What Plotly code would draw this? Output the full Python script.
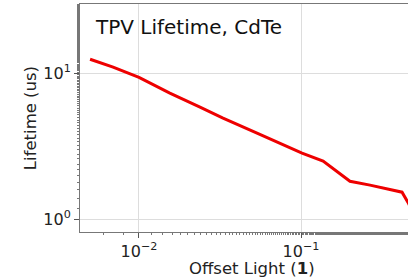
import plotly.graph_objects as go

offset_light = [0.00499, 0.00692, 0.0100, 0.0155, 0.0238, 0.0330, 0.0535, 0.0855,
                0.1014, 0.1368, 0.2004, 0.2665, 0.420, 0.457, 0.50]
lifetime_us = [12.5, 11.05, 9.39, 7.33, 5.88, 4.94, 3.90, 3.08,
               2.85, 2.51, 1.83, 1.72, 1.54, 1.31, 1.07]

x_tickvals = [0.01, 0.1]
x_ticktext = ["10<sup>−2</sup>", "10<sup>−1</sup>"]
y_tickvals = [1, 10]
y_ticktext = ["10<sup>0</sup>", "10<sup>1</sup>"]

font = "DejaVu Sans"
fig = go.Figure()
fig.add_trace(go.Scatter(x=offset_light, y=lifetime_us, mode="lines",
                         line=dict(color="#ee0000", width=3), showlegend=False))

fig.update_layout(
    width=408, height=280,
    margin=dict(l=80, r=0, t=4, b=48, autoexpand=False),
    plot_bgcolor="white", paper_bgcolor="white",
    font=dict(family=font, color="#222222"),
    annotations=[
        dict(text="TPV Lifetime, CdTe", xref="paper", yref="paper",
             x=0.04, y=0.96, xanchor="left", yanchor="top",
             showarrow=False, font=dict(size=20, family=font, color="#111111")),
        dict(text="Offset Light (<b>1</b>)", xref="paper", yref="paper",
             x=0.525, y=-0.11, xanchor="center", yanchor="top",
             showarrow=False, font=dict(size=16.5, family=font, color="#222222")),
        dict(text="Lifetime (us)", xref="paper", yref="paper",
             x=-0.152, y=0.5, xanchor="center", yanchor="middle", textangle=-90,
             showarrow=False, font=dict(size=16.5, family=font, color="#222222")),
    ],
)
fig.update_xaxes(type="log", range=[-2.364, -0.34], automargin=False,
                 tickvals=x_tickvals, ticktext=x_ticktext,
                 ticks="outside", ticklen=5, tickcolor="#555555",
                 showgrid=True, gridcolor="#dddddd", gridwidth=1,
                 showline=True, linecolor="#777777", linewidth=1, mirror=True,
                 tickfont=dict(size=16),
                 minor=dict(ticks="outside", ticklen=2, tickcolor="#777777", showgrid=False),
                 zeroline=False)
fig.update_yaxes(type="log", range=[-0.085, 1.475], automargin=False,
                 tickvals=y_tickvals, ticktext=y_ticktext,
                 ticks="outside", ticklen=5, tickcolor="#555555",
                 showgrid=True, gridcolor="#dddddd", gridwidth=1,
                 showline=True, linecolor="#777777", linewidth=1, mirror=True,
                 tickfont=dict(size=16),
                 minor=dict(ticks="outside", ticklen=2, tickcolor="#777777", showgrid=False),
                 zeroline=False)

fig.write_html("out.html", config={"displayModeBar": False},
               post_script="document.body.style.margin='0';document.body.style.overflow='hidden';")
